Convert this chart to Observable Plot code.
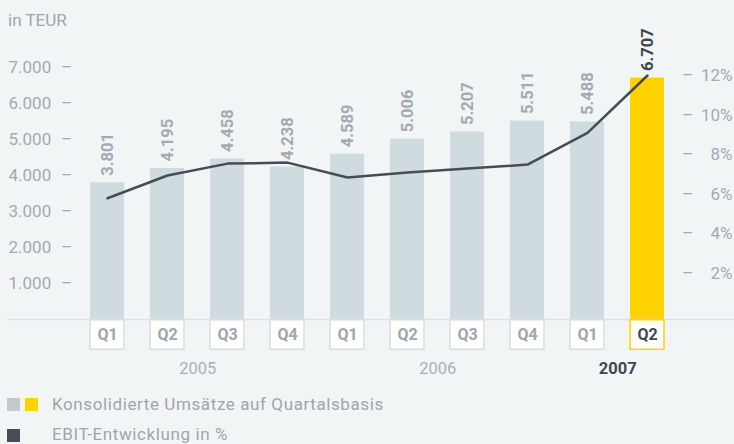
<!DOCTYPE html>
<html><head><meta charset="utf-8">
<script src="https://cdn.jsdelivr.net/npm/d3@7"></script>
<script src="https://cdn.jsdelivr.net/npm/@observablehq/plot@0.6"></script>
<style>
html,body{margin:0;padding:0;background:#f2f5f6;}
body{position:relative;width:734px;height:444px;overflow:hidden;font-family:Roboto,sans-serif;}
#title{position:absolute;left:8px;top:0;height:40px;line-height:40px;font-size:17px;color:#9ea5ac;}
#chart{position:absolute;left:0;top:0;height:385px;}
.sq{position:absolute;width:13px;height:13px;}
.lg{position:absolute;left:52px;font-size:17px;line-height:20px;letter-spacing:0.6px;color:#9ea5ac;white-space:nowrap;}
</style></head><body>
<div id="chart"></div>
<div id="title">in TEUR</div>
<div class="sq" style="left:7px;top:398px;background:#c3c9ce"></div>
<div class="sq" style="left:25px;top:398px;background:#ffd200"></div>
<div class="lg" style="top:394px">Konsolidierte Umsätze auf Quartalsbasis</div>
<div class="sq" style="left:7px;top:429px;background:#454d56"></div>
<div class="lg" style="top:424px">EBIT-Entwicklung in %</div>
<script>
const quarters = ["Q1","Q2","Q3","Q4","Q1","Q2","Q3","Q4","Q1","Q2"];
const years = ["2005","2005","2005","2005","2006","2006","2006","2006","2007","2007"];
const revenue = [3801,4195,4458,4238,4589,5006,5207,5511,5488,6707];
const ebitPct = [5.8,6.95,7.55,7.6,6.85,7.1,7.3,7.5,9.1,12.0];
const leftTicks = [1000,2000,3000,4000,5000,6000,7000];
const rightTicks = [2,4,6,8,10,12];
const yearLabels = ["2005","2006","2007"];
const yearAnchorKeys = ["2005 Q2","2006 Q2","2007 Q1"];

const GRAY = "#d0dbe0", YELLOW = "#ffd200", DARK = "#444c55", TXT = "#a3aab1";
const keys = quarters.map((q,i) => years[i] + " " + q);
const rows = keys.map((k,i) => ({key:k, q:quarters[i], revenue:revenue[i], ebit:ebitPct[i], cur: i === keys.length-1}));
const yearRows = yearLabels.map((y,i) => ({key:yearAnchorKeys[i], label:y, bold: i === yearLabels.length-1}));
// right (percent) axis expressed in left-axis units
const pctToLeft = p => 178 + 550 * p;
const fmt = d => d3.format(",")(d).replace(/,/g, ".");
const step = 60.44;

const chart = Plot.plot({
  width: 734, height: 385,
  marginLeft: 0, marginRight: 0, marginTop: 0, marginBottom: 0,
  style: {fontFamily: "Roboto, sans-serif", background: "transparent"},
  x: {domain: keys, type: "band", range: [61.56, 692.4], padding: 0.4375, axis: null},
  y: {domain: [0, 7000], range: [319, 67], axis: null},
  marks: [
    Plot.barY(rows.filter(d => !d.cur), {x: "key", y: "revenue", fill: GRAY}),
    Plot.barY(rows.filter(d => d.cur), {x: "key", y: "revenue", fill: YELLOW}),
    Plot.ruleY([0], {stroke: "#dce3e6", strokeWidth: 1.5, insetLeft: 7}),
    Plot.barY(rows.filter(d => !d.cur), {x: "key", y1: 0, y2: 0, insetBottom: -29.5, dy: 0.75, fill: "white", stroke: "#d6dee2", strokeWidth: 1.5}),
    Plot.barY(rows.filter(d => d.cur), {x: "key", y1: 0, y2: 0, insetBottom: -29.5, dy: 0.75, fill: "white", stroke: YELLOW, strokeWidth: 1.5}),
    Plot.text(rows.filter(d => !d.cur), {x: "key", y: 0, text: "q", dy: 15, fontSize: 16, fontWeight: "bold", fill: "#9ea6ad"}),
    Plot.text(rows.filter(d => d.cur), {x: "key", y: 0, text: "q", dy: 15, fontSize: 16, fontWeight: "bold", fill: "#3f4750"}),
    Plot.text(yearRows.filter(d => !d.bold), {x: "key", y: 0, text: "label", dx: step/2, dy: 49, fontSize: 16.5, fill: "#a9b0b6"}),
    Plot.text(yearRows.filter(d => d.bold), {x: "key", y: 0, text: "label", dx: step/2, dy: 49, fontSize: 16.5, fontWeight: "bold", fill: "#3f4750"}),
    Plot.text(rows.filter(d => !d.cur), {x: "key", y: "revenue", text: d => fmt(d.revenue), rotate: -90, textAnchor: "start", dy: -7, fontSize: 16.5, fontWeight: "bold", fill: "#a3aab1"}),
    Plot.text(rows.filter(d => d.cur), {x: "key", y: "revenue", text: d => fmt(d.revenue), rotate: -90, textAnchor: "start", dy: -7, fontSize: 16.5, fontWeight: "bold", fill: "#3d454e"}),
    Plot.line(rows, {x: "key", y: d => pctToLeft(d.ebit), stroke: DARK, strokeWidth: 2.5}),
    Plot.text(leftTicks, {y: d => d, text: d => fmt(d), frameAnchor: "left", textAnchor: "start", dx: 8, fontSize: 17, fill: TXT}),
    Plot.text(leftTicks, {y: d => d, text: () => "–", frameAnchor: "left", textAnchor: "middle", dx: 66, fontSize: 17, fill: TXT}),
    Plot.text(rightTicks, {y: d => pctToLeft(d), text: d => d + "%", frameAnchor: "right", textAnchor: "end", dx: -2, fontSize: 17, fill: TXT}),
    Plot.text(rightTicks, {y: d => pctToLeft(d), text: () => "–", frameAnchor: "right", textAnchor: "middle", dx: -47, fontSize: 17, fill: TXT})
  ]
});
document.getElementById("chart").appendChild(chart);
</script>
</body></html>
